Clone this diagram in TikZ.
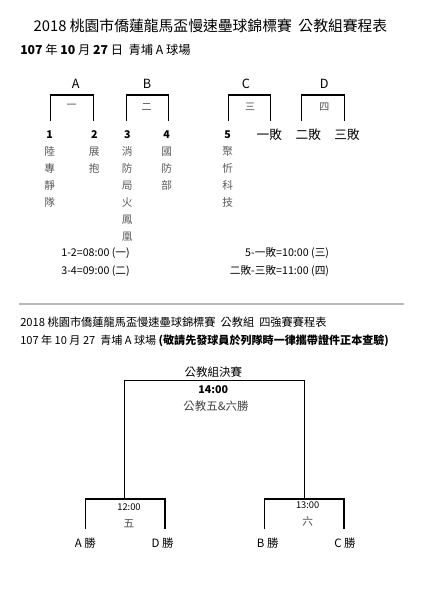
\documentclass[tikz,border=0pt]{standalone}
\usepackage{fontspec}
\setmainfont{Noto Sans CJK TC}
\tikzset{
  bracket/.style={draw=black, line width=1pt},
  title/.style={inner sep=0pt, font=\fontsize{11.1}{13}\selectfont},
  head/.style={inner sep=0pt, anchor=west, font=\fontsize{9.2}{11}\selectfont},
  grp/.style={inner sep=0pt, font=\fontsize{9.5}{11}\selectfont},
  game/.style={inner sep=0pt, text=black!70, font=\fontsize{7.5}{9}\selectfont},
  num/.style={inner sep=0pt, font=\bfseries\fontsize{8}{10}\selectfont},
  colch/.style={inner sep=0pt, text=black!65, font=\fontsize{8}{10}\selectfont},
  sched/.style={inner sep=0pt, anchor=east, font=\fontsize{8}{10}\selectfont},
  team/.style={inner sep=0pt, font=\fontsize{8.6}{10}\selectfont}
}
\begin{document}
\begin{tikzpicture}[x=0.75pt, y=-0.75pt]
\useasboundingbox (0,0) rectangle (446,600);
% 標題
\node[title] (ttl) at (210.5,26) {2018 桃園市僑蓮龍馬盃慢速壘球錦標賽\ \ 公教組賽程表};
\node[head] (day) at (20,50) {\textbf{107} 年 \textbf{10} 月 \textbf{27} 日\ \ 青埔 A 球場};
% 分組
\node[grp] (gA) at (75.7,84.3) {A};
\node[grp] (gB) at (147,84.3) {B};
\node[grp] (gC) at (246,84.3) {C};
\node[grp] (gD) at (324.3,84.3) {D};
\coordinate (a1) at (50.7,121);  \coordinate (a2) at (93.3,121);
\coordinate (b1) at (126.7,121); \coordinate (b2) at (168.7,121);
\coordinate (c1) at (228.3,121); \coordinate (c2) at (270.7,121);
\coordinate (d1) at (301.7,121); \coordinate (d2) at (344.3,121);
\draw[bracket] (a1) -- ++(0,-26) -| (a2);
\draw[bracket] (b1) -- ++(0,-26) -| (b2);
\draw[bracket] (c1) -- ++(0,-26) -| (c2);
\draw[bracket] (d1) -- ++(0,-26) -| (d2);
\node[game] (g1) at (71.7,106.7) {一};
\node[game] (g2) at (146.7,106.7) {二};
\node[game] (g3) at (250,106.7) {三};
\node[game] (g4) at (324.3,106.7) {四};
% 球隊
\node[num] (n1) at (49.7,135) {1};
\node[num] (n2) at (94.3,135) {2};
\node[num] (n3) at (127.3,135) {3};
\node[num] (n4) at (166.7,135) {4};
\node[num] (n5) at (227.7,135) {5};
\node[grp] (l1) at (269.3,134.7) {一敗};
\node[grp] (l2) at (308.3,134.7) {二敗};
\node[grp] (l3) at (347,134.7) {三敗};
\foreach \c [count=\i] in {陸,專,靜,隊}
  \node[colch] (t1-\i) at (49.7,{151.7+17*(\i-1)}) {\c};
\foreach \c [count=\i] in {展,抱}
  \node[colch] (t2-\i) at (94.3,{151.7+17*(\i-1)}) {\c};
\foreach \c [count=\i] in {消,防,局,火,鳳,凰}
  \node[colch] (t3-\i) at (127.3,{151.7+17*(\i-1)}) {\c};
\foreach \c [count=\i] in {國,防,部}
  \node[colch] (t4-\i) at (166.7,{151.7+17*(\i-1)}) {\c};
\foreach \c [count=\i] in {聚,忻,科,技}
  \node[colch] (t5-\i) at (227.7,{151.7+17*(\i-1)}) {\c};
% 時間
\node[sched] (s1) at (130,253.3) {1-2=08:00 (一)};
\node[sched] (s2) at (130,270.7) {3-4=09:00 (二)};
\node[sched] (s3) at (329.3,253.3) {5-一敗=10:00 (三)};
\node[sched] (s4) at (329.3,270.7) {二敗-三敗=11:00 (四)};
% 四強賽
\draw[gray!55, line width=1.2pt] (19,304) -- (404,304);
\node[head, font=\fontsize{8.4}{10}\selectfont] (ttl2) at (20,322.7) {2018 桃園市僑蓮龍馬盃慢速壘球錦標賽\ \ 公教組\ \ 四強賽賽程表};
\node[head, font=\fontsize{8.3}{10}\selectfont] (day2) at (20,340.7) {107 年 10 月 27\ \ 青埔 A 球場 \textbf{(敬請先發球員於列隊時一律攜帶證件正本查驗)}};
\node[team] (fin) at (213.3,371.7) {公教組決賽};
\node[num] (ft) at (213.3,389.3) {14:00};
\node[team, text=black!75] (fw) at (216,405.7) {公教五\&六勝};
\coordinate (q5) at (124.3,499); \coordinate (q6) at (304.3,499);
\draw[bracket] (q5) -- ++(0,-118.3) -| (q6);
\coordinate (fA) at (85.7,529);  \coordinate (fD) at (165,529);
\coordinate (fB) at (264.3,529); \coordinate (fC) at (344,529);
\draw[bracket] (fA) -- ++(0,-30) -| (fD);
\draw[bracket] (fB) -- ++(0,-30) -| (fC);
\node[inner sep=0pt, font=\fontsize{7}{9}\selectfont] (t5) at (129,506.7) {12:00};
\node[game, font=\fontsize{8}{10}\selectfont] (m5) at (129,523.3) {五};
\node[inner sep=0pt, font=\fontsize{7}{9}\selectfont] (t6) at (307.7,505) {13:00};
\node[game, font=\fontsize{8}{10}\selectfont] (m6) at (307.7,521.7) {六};
\node[team] (wA) at (85.3,542.7) {A 勝};
\node[team] (wD) at (162.7,542.7) {D 勝};
\node[team] (wB) at (267.7,542.7) {B 勝};
\node[team] (wC) at (345,542.7) {C 勝};
\end{tikzpicture}
\end{document}
